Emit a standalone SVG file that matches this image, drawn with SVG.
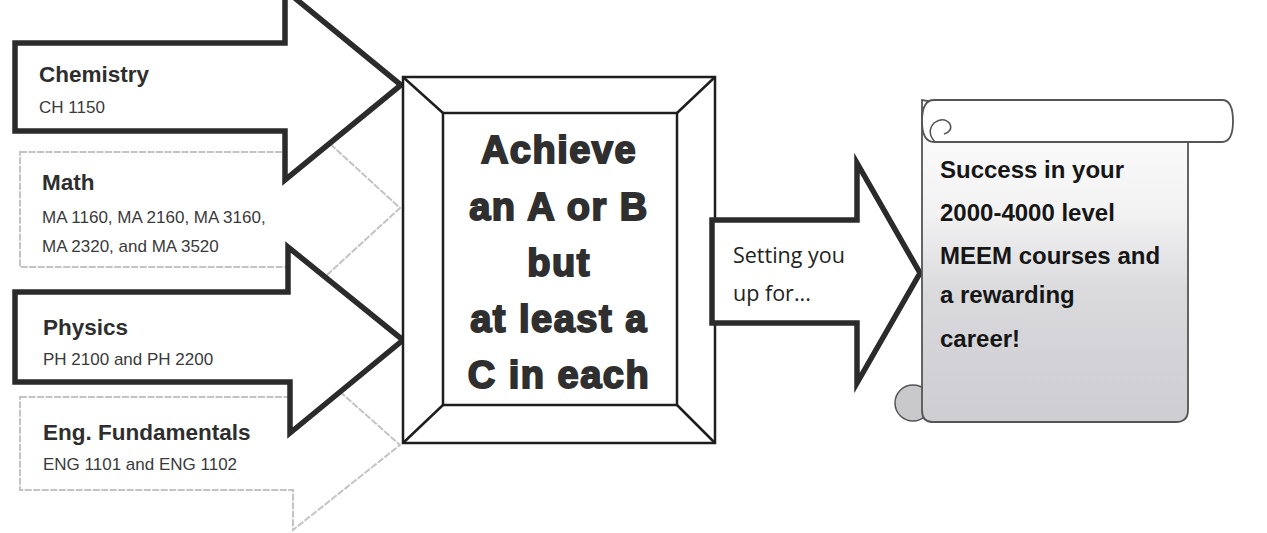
<svg xmlns="http://www.w3.org/2000/svg" width="1267" height="533" viewBox="0 0 1267 533">
<style>
.dark{fill:#fff;stroke:#2b2b2b;stroke-width:5.5;stroke-linejoin:miter}
.light{fill:#fff;stroke:#c4c4c4;stroke-width:2;stroke-dasharray:7 1.5}
.title{font-family:"Liberation Sans",Arial,sans-serif;font-weight:bold;font-size:22.5px;fill:#2e2e2e}
.sub{font-family:"Liberation Sans",Arial,sans-serif;font-size:17px;fill:#3a3a3a}
.big{font-family:"Liberation Sans",Arial,sans-serif;font-weight:bold;font-size:38px;fill:#2f2f2f;stroke:#2f2f2f;stroke-width:1.9;letter-spacing:1.5px;text-anchor:middle}
.mid{font-family:"Open Sans","Liberation Sans",sans-serif;font-size:21.5px;fill:#222}
.scroll{font-family:"Liberation Sans",Arial,sans-serif;font-weight:bold;font-size:24px;fill:#161616}
.frame{fill:#fff;stroke:#1e1e1e;stroke-width:2.5}
</style>
<defs>
<linearGradient id="paper" x1="0" y1="0" x2="0" y2="1">
<stop offset="0" stop-color="#ffffff"/>
<stop offset="0.35" stop-color="#f2f2f3"/>
<stop offset="0.6" stop-color="#dadadd"/>
<stop offset="1" stop-color="#cdcdd2"/>
</linearGradient>
</defs>
<rect width="1267" height="533" fill="#fff"/>
<g id="math">
<path class="light" d="M20,152 H293 V110 L400,208 L293,306 V267 H20 Z"/>
<text class="title" x="42" y="190">Math</text>
<text class="sub" x="42" y="223">MA 1160, MA 2160, MA 3160,</text>
<text class="sub" x="42" y="252">MA 2320, and MA 3520</text>
</g>
<g id="eng">
<path class="light" d="M20,397 H293 V350 L400,445 L293,530 V490 H20 Z"/>
<text class="title" x="43" y="440">Eng. Fundamentals</text>
<text class="sub" x="43" y="470">ENG 1101 and ENG 1102</text>
</g>
<g id="chemistry">
<path class="dark" d="M15,43 H285 V-10 L401,85 L285,180 V131 H15 Z"/>
<text class="title" x="39" y="82">Chemistry</text>
<text class="sub" x="39" y="113">CH 1150</text>
</g>
<g id="physics">
<path class="dark" d="M15,292 H288 V247 L403,340 L290,433 V382 H15 Z"/>
<text class="title" x="43" y="335">Physics</text>
<text class="sub" x="43" y="365">PH 2100 and PH 2200</text>
</g>
<g id="achieve">
<rect class="frame" x="403" y="77" width="312" height="366"/>
<rect class="frame" x="443" y="113" width="234" height="292"/>
<path d="M403,77 L443,113 M715,77 L677,113 M403,443 L443,405 M715,443 L677,405" stroke="#1e1e1e" stroke-width="2.5" fill="none"/>
<text class="big" x="559" y="163">Achieve</text>
<text class="big" x="559" y="220">an A or B</text>
<text class="big" x="559" y="276">but</text>
<text class="big" x="559" y="332">at least a</text>
<text class="big" x="559" y="388">C in each</text>
</g>
<g id="connectors">
<g id="setting">
<path class="dark" d="M712,220 H857 V163 L920,273 L857,383 V323 H712 Z"/>
<text class="mid" x="733" y="263">Setting you</text>
<text class="mid" x="733" y="301">up for...</text>
</g>
</g>
<g id="success">
<circle cx="913" cy="403" r="18" fill="#c9c9cc" stroke="#555" stroke-width="1.5"/>
<path d="M922,100 V410 Q922,422 932,422 H1176 Q1188,422 1188,410 V142 Z" fill="url(#paper)" stroke="#555" stroke-width="1.8"/>
<path d="M934,100 H1222 Q1233,100 1233,121 Q1233,142 1222,142 H934 Q922,142 922,121 Q922,100 934,100 Z" fill="#fff" stroke="#555" stroke-width="1.8"/>
<path d="M935,142 Q926,132 934,123 Q944,116 950,124 Q953,131 944,134" fill="none" stroke="#555" stroke-width="1.5"/>
<text class="scroll" x="940" y="178">Success in your</text>
<text class="scroll" x="940" y="221">2000-4000 level</text>
<text class="scroll" x="940" y="264">MEEM courses and</text>
<text class="scroll" x="940" y="303">a rewarding</text>
<text class="scroll" x="940" y="347">career!</text>
</g>
</svg>
